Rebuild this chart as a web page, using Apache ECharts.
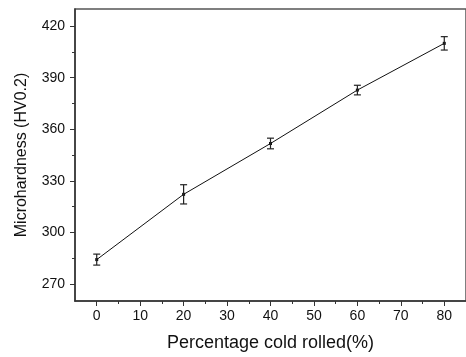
<!DOCTYPE html>
<html><head><meta charset="utf-8">
<script src="https://cdn.jsdelivr.net/npm/echarts@6/dist/echarts.min.js"></script>
<style>html,body{margin:0;padding:0;background:#fff}#c{width:466px;height:357px}</style>
</head><body><div id="c"></div>
<script>
const coldRolled = [0, 20, 40, 60, 80];
const hardness = [284.1, 322.1, 351.7, 382.8, 410.0];
const errors = [3.2, 5.6, 3.1, 2.8, 3.9];
const xTicks = [0, 10, 20, 30, 40, 50, 60, 70, 80];
const xMinorTicks = [5, 15, 25, 35, 45, 55, 65, 75];
const yTicks = [270, 300, 330, 360, 390, 420];
const yMinorTicks = [285, 315, 345, 375, 405];
const xTitle = 'Percentage cold rolled(%)';
const yTitle = 'Microhardness (HV0.2)';

const chart = echarts.init(document.getElementById('c'));
const lineData = coldRolled.map((x, i) => [x, hardness[i]]);
const errData = coldRolled.map((x, i) => [x, hardness[i] - errors[i], hardness[i] + errors[i]]);
const font = 'Liberation Sans, Arial, sans-serif';
const axisCol = '#333';
const xRange = {min: -5, max: 85};
const yRange = {min: 260, max: 430};
chart.setOption({
  animation: false,
  grid: {left: 75, right: -6, top: 9, bottom: 55, show: true, borderColor: '#555', borderWidth: 1.5, backgroundColor: 'transparent'},
  xAxis: [{
    type: 'value', ...xRange, position: 'bottom',
    name: xTitle, nameLocation: 'middle', nameGap: 33,
    nameTextStyle: {fontFamily: font, fontSize: 18, color: '#111'},
    axisLine: {show: true, onZero: false, lineStyle: {color: axisCol, width: 1.5}},
    axisTick: {show: true, inside: false, length: 5, customValues: xTicks, lineStyle: {color: axisCol}},
    axisLabel: {fontFamily: font, fontSize: 14, color: '#111', margin: 8, customValues: xTicks},
    splitLine: {show: false}
  }, {
    type: 'value', ...xRange, position: 'bottom',
    axisLine: {show: false, onZero: false},
    axisTick: {show: true, inside: false, length: 3, customValues: xMinorTicks, lineStyle: {color: axisCol}},
    axisLabel: {show: false},
    splitLine: {show: false}
  }],
  yAxis: [{
    type: 'value', ...yRange, position: 'left',
    name: yTitle, nameLocation: 'middle', nameGap: 45,
    nameTextStyle: {fontFamily: font, fontSize: 16, color: '#111'},
    axisLine: {show: true, onZero: false, lineStyle: {color: axisCol, width: 1.5}},
    axisTick: {show: true, inside: false, length: 5, customValues: yTicks, lineStyle: {color: axisCol}},
    axisLabel: {fontFamily: font, fontSize: 14, color: '#111', margin: 10, customValues: yTicks},
    splitLine: {show: false}
  }, {
    type: 'value', ...yRange, position: 'left',
    axisLine: {show: false, onZero: false},
    axisTick: {show: true, inside: false, length: 3, customValues: yMinorTicks, lineStyle: {color: axisCol}},
    axisLabel: {show: false},
    splitLine: {show: false}
  }],
  series: [
    {type: 'line', data: lineData, symbol: 'rect', symbolSize: 3,
     lineStyle: {color: '#111', width: 1}, itemStyle: {color: '#111'}, z: 3},
    {type: 'custom', data: errData, z: 4,
     renderItem: function (params, api) {
       const x = api.value(0);
       const lo = api.coord([x, api.value(1)]);
       const hi = api.coord([x, api.value(2)]);
       const w = 3.5;
       const st = {stroke: '#222', lineWidth: 1.2};
       return {type: 'group', children: [
         {type: 'line', shape: {x1: lo[0], y1: lo[1], x2: hi[0], y2: hi[1]}, style: st},
         {type: 'line', shape: {x1: lo[0]-w, y1: lo[1], x2: lo[0]+w, y2: lo[1]}, style: st},
         {type: 'line', shape: {x1: hi[0]-w, y1: hi[1], x2: hi[0]+w, y2: hi[1]}, style: st}
       ]};
     }}
  ]
});
</script></body></html>
